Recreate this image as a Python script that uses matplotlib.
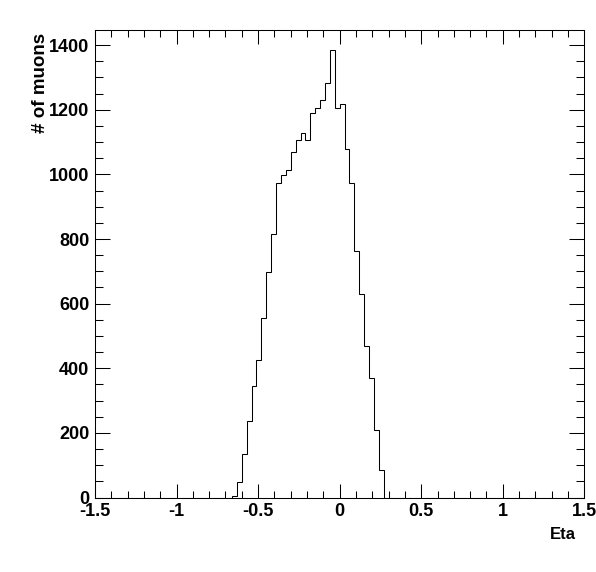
import numpy as np
import matplotlib.pyplot as plt
from matplotlib.ticker import MultipleLocator

plt.rcParams['font.family'] = 'Liberation Sans'
plt.rcParams['font.weight'] = 'bold'

# histogram: 100 bins over [-1.5, 1.5], only the filled range is listed
x_min, x_max, n_bins = -1.5, 1.5, 100
first_bin = 28   # bin starting at eta = -0.66
counts = [4, 47, 135, 236, 344, 425, 557, 697, 817, 972,
          997, 1015, 1068, 1108, 1127, 1106, 1189, 1207, 1229, 1282,
          1384, 1207, 1217, 1080, 972, 763, 630, 468, 370, 208,
          84]

edges = np.linspace(x_min, x_max, n_bins + 1)
hist = np.zeros(n_bins)
hist[first_bin:first_bin + len(counts)] = counts

fig = plt.figure(figsize=(5.96, 5.72), dpi=100)
ax = fig.add_axes([0.1594, 0.1302, 0.8210, 0.8174])

lw = 0.75
ax.stairs(hist, edges, color='black', linewidth=lw)

ax.set_xlim(x_min, x_max)
ax.set_ylim(0, 1447)

ax.xaxis.set_major_locator(MultipleLocator(0.5))
ax.xaxis.set_minor_locator(MultipleLocator(0.1))
ax.yaxis.set_major_locator(MultipleLocator(200))
ax.yaxis.set_minor_locator(MultipleLocator(50))
ax.xaxis.set_major_formatter(plt.FuncFormatter(lambda v, p: f'{v:g}'))

ax.tick_params(axis='both', which='both', direction='in', top=True, right=True,
               width=lw, labelsize=13, colors='black')
ax.tick_params(axis='x', which='major', length=10, pad=4)
ax.tick_params(axis='x', which='minor', length=5)
ax.tick_params(axis='y', which='major', length=11, pad=4)
ax.tick_params(axis='y', which='minor', length=5.5)
for s in ax.spines.values():
    s.set_linewidth(lw)

ax.set_xlabel('Eta', fontsize=12, fontweight='bold', loc='right')
ax.xaxis.set_label_coords(0.983, -0.063)
ax.set_ylabel('# of muons', fontsize=13.5, fontweight='bold', loc='top')
ax.yaxis.set_label_coords(-0.094, 0.993)

fig.savefig('out.png', dpi=100)
